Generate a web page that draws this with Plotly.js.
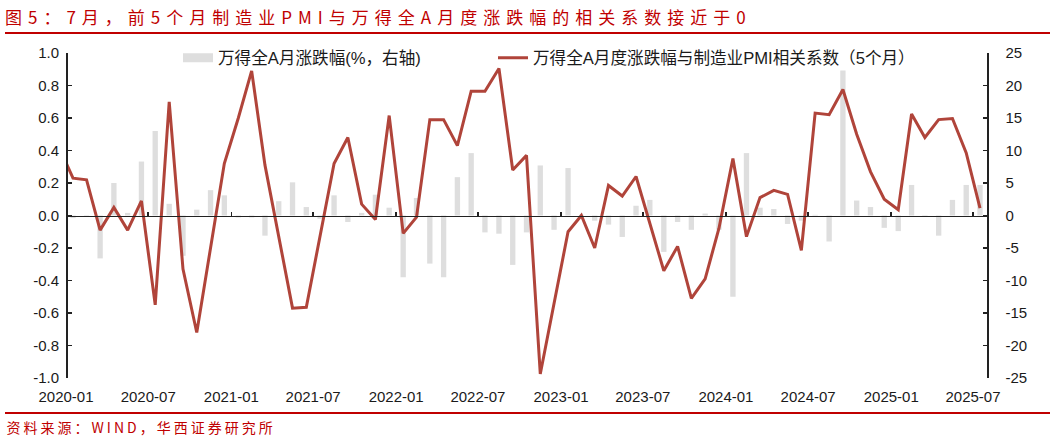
<!DOCTYPE html>
<html>
<head>
<meta charset="utf-8">
<script src="https://cdn.plot.ly/plotly-3.0.1.min.js"></script>
<style>
  html, body { margin: 0; padding: 0; background: #fff; }
  #chart { width: 1053px; height: 442px; }
</style>
</head>
<body>
<div id="chart"></div>
<script>
// Months (2019-12 is only partly visible at the left edge, as in the source)
const months = [
  '2019-12',
  '2020-01','2020-02','2020-03','2020-04','2020-05','2020-06','2020-07','2020-08','2020-09','2020-10','2020-11','2020-12',
  '2021-01','2021-02','2021-03','2021-04','2021-05','2021-06','2021-07','2021-08','2021-09','2021-10','2021-11','2021-12',
  '2022-01','2022-02','2022-03','2022-04','2022-05','2022-06','2022-07','2022-08','2022-09','2022-10','2022-11','2022-12',
  '2023-01','2023-02','2023-03','2023-04','2023-05','2023-06','2023-07','2023-08','2023-09','2023-10','2023-11','2023-12',
  '2024-01','2024-02','2024-03','2024-04','2024-05','2024-06','2024-07','2024-08','2024-09','2024-10','2024-11','2024-12',
  '2025-01','2025-02','2025-03','2025-04','2025-05','2025-06','2025-07'
];

// 万得全A月涨跌幅 (%), right axis
const windAReturn = [
  null,
  -0.4, -0.2, -6.6, 5.0, 0.4, 8.3, 13.0, 1.8, -6.2, 0.9, 3.9, 3.1,
  -0.3, -0.3, -3.1, 2.2, 5.1, 1.3, -0.5, 3.1, -1.0, 0.4, 3.2, 1.2,
  -9.5, 2.7, -7.4, -9.5, 5.9, 9.6, -2.6, -2.8, -7.6, -2.6, 7.7, -2.2,
  7.3, 0.1, -0.8, -1.4, -3.3, 1.5, 2.4, -5.6, -1.0, -2.2, 0.3, -2.2,
  -12.5, 9.6, 1.2, 1.0, -1.3, -0.8, 0.1, -4.0, 22.3, 2.3, 1.3, -1.9,
  -2.4, 4.7, -0.2, -3.1, 2.4, 4.7, 4.7
];

// 万得全A月度涨跌幅与制造业PMI相关系数（5个月）, left axis
const corr5m = [
  0.42,
  0.23, 0.22, -0.09, 0.05, -0.09, 0.09, -0.55, 0.70, -0.33, -0.72, -0.20, 0.32,
  0.60, 0.89, 0.31, -0.13, -0.57, -0.565, -0.12, 0.32, 0.48, 0.07, -0.025, 0.615,
  -0.11, -0.01, 0.59, 0.59, 0.43, 0.765, 0.765, 0.905, 0.28, 0.37, -0.975, -0.54,
  -0.10, 0.00, -0.20, 0.185, 0.12, 0.24, -0.05, -0.34, -0.19, -0.51, -0.39, -0.08,
  0.35, -0.13, 0.11, 0.155, 0.13, -0.215, 0.63, 0.62, 0.775, 0.50, 0.27, 0.10,
  0.035, 0.625, 0.48, 0.59, 0.597, 0.385, 0.045
];

const leftTickVals = [-1, -0.8, -0.6, -0.4, -0.2, 0, 0.2, 0.4, 0.6, 0.8, 1];
const leftTickText = ['-1.0','-0.8','-0.6','-0.4','-0.2','0.0','0.2','0.4','0.6','0.8','1.0'];
const rightTickVals = [-25, -20, -15, -10, -5, 0, 5, 10, 15, 20, 25];
const rightTickText = ['-25','-20','-15','-10','-5','0','5','10','15','20','25'];

const barName = '万得全A月涨跌幅(%，右轴)';
const lineName = '万得全A月度涨跌幅与制造业PMI相关系数（5个月）';
const titleText = '图5：7月，前5个月制造业PMI与万得全A月度涨跌幅的相关系数接近于0';
const sourceText = '资料来源：WIND，华西证券研究所';

const FONT = 'Liberation Sans, Arial, "Noto Sans CJK SC", sans-serif';
const CJK = '"Noto Sans CJK SC", sans-serif';
const RED = '#C00000';
const LINE = '#B0443A';
const GREY = '#DEDEDE';

const traces = [
  { // legend entry for the bars (wide grey swatch)
    type: 'scatter', mode: 'lines', x: [null], y: [null],
    name: barName, line: { color: GREY, width: 9 },
    xaxis: 'x', yaxis: 'y', hoverinfo: 'skip', legend: 'legend'
  },
  {
    type: 'bar', x: months, y: windAReturn, name: barName,
    xperiod: 'M1', xperiodalignment: 'middle',
    marker: { color: GREY, line: { width: 0 } },
    xaxis: 'x', yaxis: 'y', showlegend: false
  },
  {
    type: 'scatter', mode: 'lines', x: months, y: corr5m, name: lineName,
    xperiod: 'M1', xperiodalignment: 'middle',
    line: { color: LINE, width: 3 },
    xaxis: 'x2', yaxis: 'y2', legend: 'legend2'
  }
];

const xRange = ['2020-01-01', '2025-08-01'];

const layout = {
  width: 1053, height: 442,
  margin: { l: 66, r: 66, t: 53, b: 64 },
  paper_bgcolor: '#fff', plot_bgcolor: 'rgba(0,0,0,0)',
  bargap: 0.6,
  showlegend: true,
  font: { family: FONT, size: 15, color: '#1a1a1a' },
  title: {
    text: titleText,
    font: { family: CJK, size: 17, color: RED },
    x: 5 / 1053, xanchor: 'left', xref: 'container',
    y: 1 - 18 / 442, yanchor: 'middle', yref: 'container'
  },
  legend: {
    orientation: 'h', x: (178 - 66) / 921, xanchor: 'left', y: 0.985, yanchor: 'middle',
    bgcolor: 'rgba(0,0,0,0)', font: { family: FONT, size: 16.6, color: '#1a1a1a' }
  },
  legend2: {
    orientation: 'h', x: (493 - 66) / 921, xanchor: 'left', y: 0.985, yanchor: 'middle',
    bgcolor: 'rgba(0,0,0,0)', font: { family: FONT, size: 16.6, color: '#1a1a1a' }
  },
  xaxis: {
    type: 'date', range: xRange, tick0: '2020-01-01', dtick: 'M6', tickformat: '%Y-%m',
    showline: false, ticks: '', showgrid: false, zeroline: false,
    ticklabelstandoff: 8, tickfont: { family: FONT, size: 15, color: '#1a1a1a' },
    fixedrange: true
  },
  xaxis2: {
    type: 'date', range: xRange, tick0: '2020-01-01', dtick: 'M6',
    overlaying: 'x', anchor: 'free', position: 0.5, side: 'bottom',
    showline: true, linecolor: '#222', linewidth: 1.5,
    ticks: 'inside', ticklen: 4, tickwidth: 1.5, tickcolor: '#222',
    showticklabels: false, showgrid: false, zeroline: false, fixedrange: true
  },
  yaxis: {
    side: 'right', anchor: 'x', range: [-25, 25],
    tickvals: rightTickVals, ticktext: rightTickText,
    showline: true, linecolor: '#222', linewidth: 1.5,
    ticks: 'inside', ticklen: 4, tickwidth: 1.5, tickcolor: '#222',
    showgrid: false, zeroline: false, ticklabelstandoff: 14,
    tickfont: { family: FONT, size: 15, color: '#1a1a1a' }, fixedrange: true
  },
  yaxis2: {
    side: 'left', overlaying: 'y', anchor: 'free', position: 0, range: [-1, 1],
    tickvals: leftTickVals, ticktext: leftTickText,
    showline: true, linecolor: '#222', linewidth: 1.5,
    ticks: 'inside', ticklen: 4, tickwidth: 1.5, tickcolor: '#222',
    showgrid: false, zeroline: false, ticklabelstandoff: 4,
    tickfont: { family: FONT, size: 15, color: '#1a1a1a' }, fixedrange: true
  },
  shapes: [
    { type: 'line', xref: 'paper', yref: 'paper',
      x0: (5 - 66) / 921, x1: (1050 - 66) / 921, y0: (378 - 33) / 325, y1: (378 - 33) / 325,
      line: { color: RED, width: 2 } },
    { type: 'line', xref: 'paper', yref: 'paper',
      x0: (5 - 66) / 921, x1: (1050 - 66) / 921, y0: (378 - 413) / 325, y1: (378 - 413) / 325,
      line: { color: RED, width: 2 } }
  ],
  annotations: [
    { text: sourceText, xref: 'paper', yref: 'paper',
      x: (30 - 66) / 921, xanchor: 'left', y: (378 - 427) / 325, yanchor: 'middle',
      showarrow: false, font: { family: CJK, size: 14, color: RED } }
  ]
};

Plotly.newPlot('chart', traces, layout, { displayModeBar: false, staticPlot: true }).then(function (gd) {
  const t = gd.querySelector('.gtitle');
  if (t) t.style.letterSpacing = '6px';
  const a = gd.querySelector('.annotation-text');
  if (a) a.style.letterSpacing = '3px';
});
</script>
</body>
</html>
